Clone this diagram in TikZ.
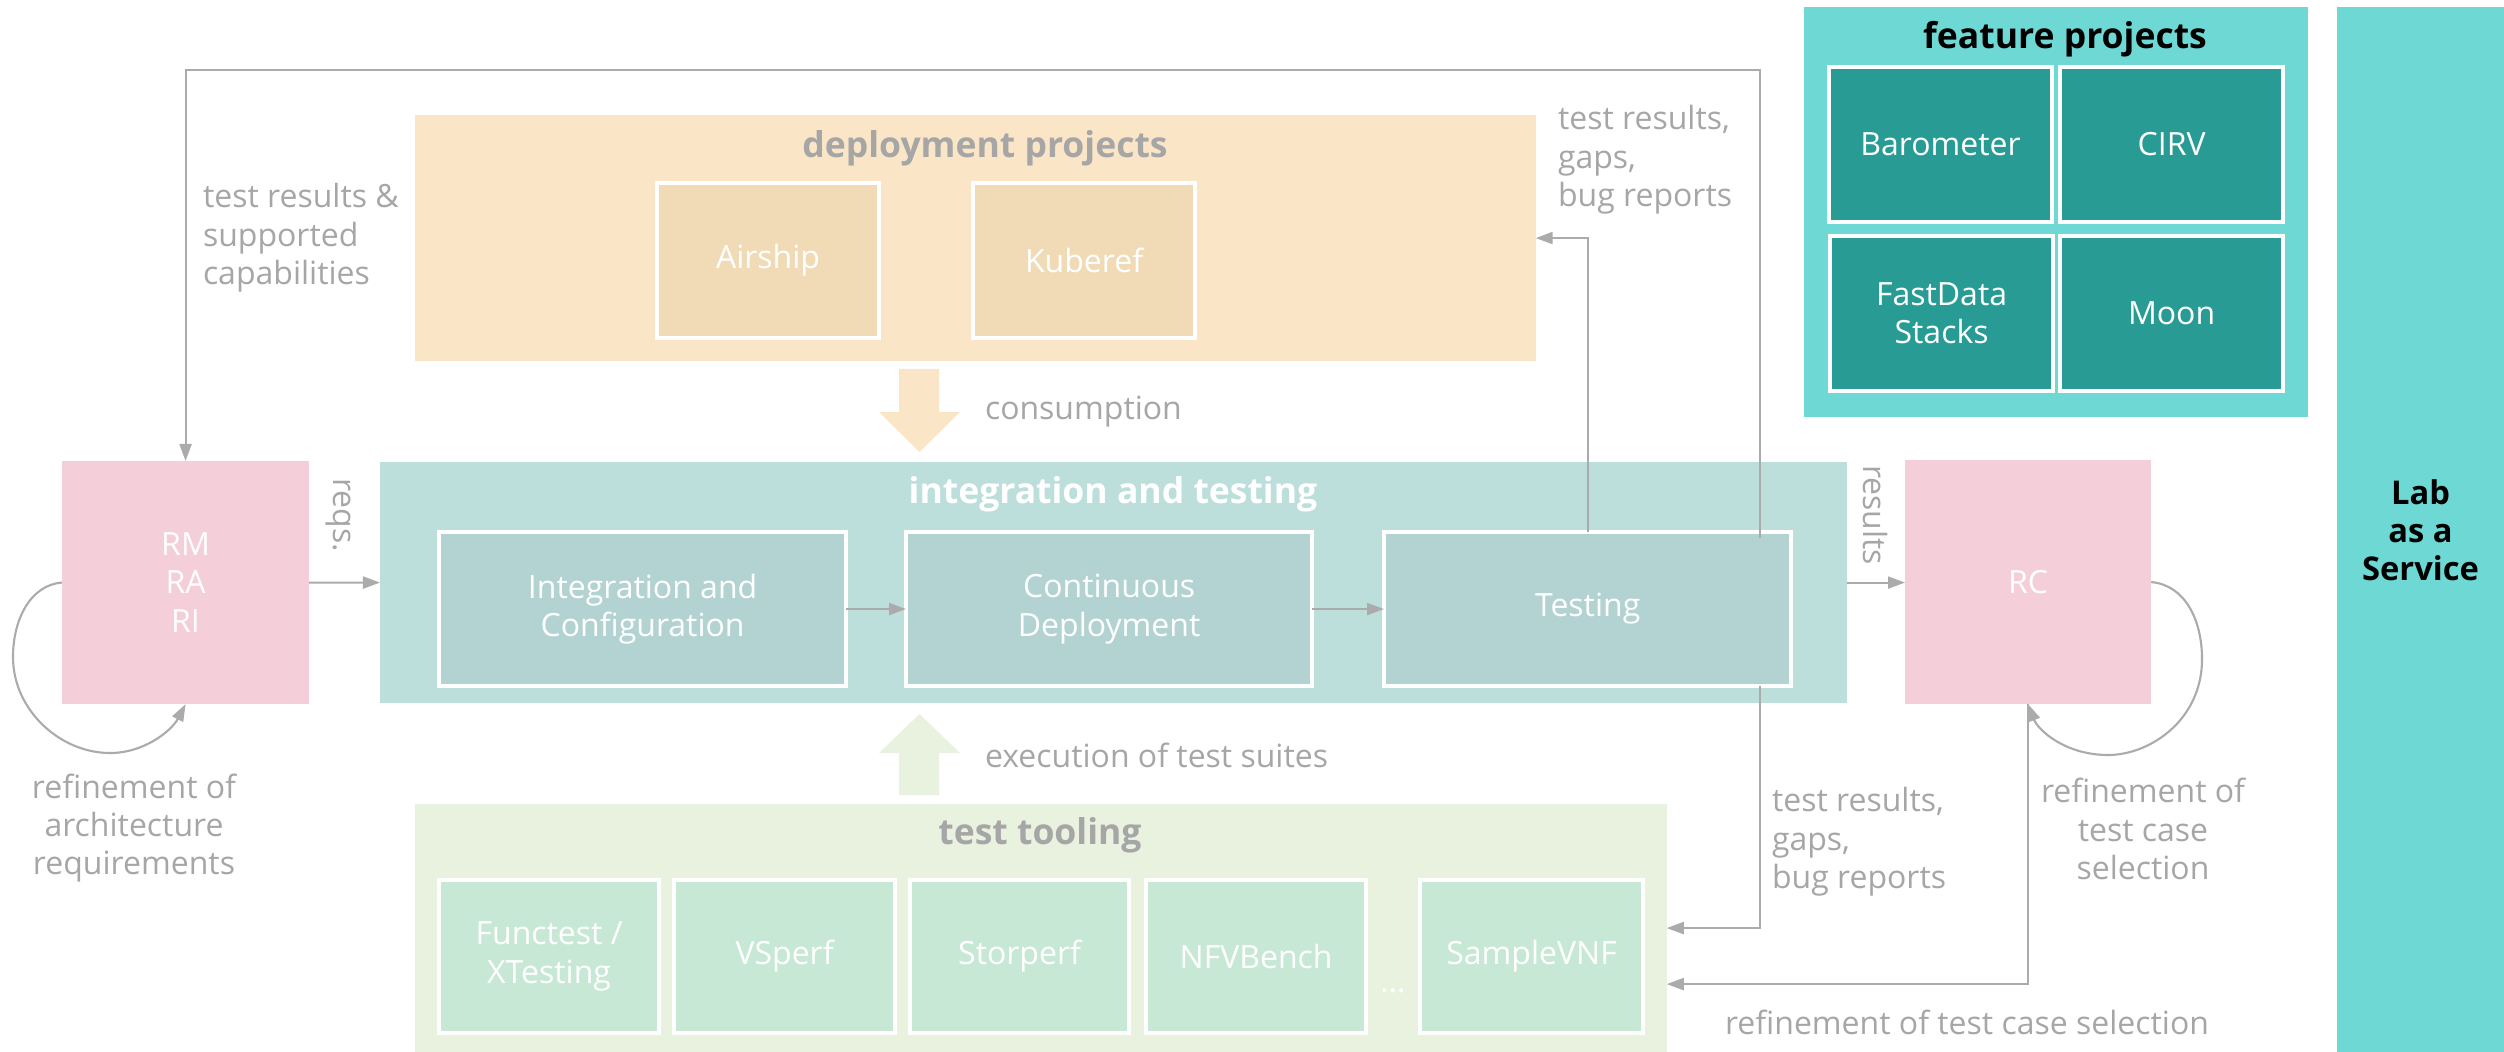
\documentclass[tikz,border=0pt]{standalone}
\usepackage{fontspec}
\setmainfont{Open Sans}
\usetikzlibrary{arrows.meta}

\definecolor{peach}{HTML}{FAE5C6}
\definecolor{peachin}{HTML}{F1DBB6}
\definecolor{intbg}{HTML}{BCDFDC}
\definecolor{intin}{HTML}{B3D3D2}
\definecolor{toolbg}{HTML}{E9F2DF}
\definecolor{toolin}{HTML}{C8E8D6}
\definecolor{pinkbg}{HTML}{F4CED9}
\definecolor{featbg}{HTML}{6ED8D4}
\definecolor{featin}{HTML}{289C94}
\definecolor{txtgray}{HTML}{A6A6A6}
\definecolor{linegray}{HTML}{ABABAB}

\begin{document}
\begin{tikzpicture}[x=0.01cm,y=-0.01cm,
  every node/.style={inner sep=0pt,outer sep=0pt,font=\fontsize{9.1}{10.9}\selectfont},
  group/.style={anchor=north west},
  sub/.style={anchor=north west,draw=white,line width=1.2pt,text=white,align=center,
    minimum width=2.22cm,minimum height=1.55cm},
  title/.style={font=\fontsize{10.1}{12}\selectfont\bfseries,text=txtgray},
  lbl/.style={text=txtgray,align=left,anchor=west},
  conn/.style={draw=linegray,line width=0.6pt,-{Triangle[length=0.17cm,width=0.12cm]}}]

\useasboundingbox (0,0) rectangle (2504,1052);

% deployment projects
\node[group,fill=peach,minimum width=11.2cm,minimum height=2.46cm] (deploy) at (415,115) {};
\node[title] (deploytitle) at (985,148) {deployment projects};
\node[sub,fill=peachin] (airship) at (657,183) {Airship};
\node[sub,fill=peachin] (kuberef) at (973,183) {Kuberef};

% consumption arrow
\fill[peach] (899,369) -- (939,369) -- (939,412) -- (960,412) -- (919.5,452) -- (879,412) -- (899,412) -- cycle;
\node[lbl] (consumelbl) at (985,412) {consumption};

% integration and testing
\node[group,fill=intbg,minimum width=14.66cm,minimum height=2.41cm] (integ) at (380,462) {};
\node[title,text=white] (integtitle) at (1113,494) {integration and testing};
\node[sub,fill=intin,minimum width=4.07cm,minimum height=1.54cm] (intconf) at (439,532) {Integration and\\Configuration};
\node[sub,fill=intin,minimum width=4.06cm,minimum height=1.54cm] (contdep) at (906,532) {Continuous\\Deployment};
\node[sub,fill=intin,minimum width=4.07cm,minimum height=1.54cm] (testing) at (1384,532) {Testing};

% RM / RC
\node[group,fill=pinkbg,text=white,align=center,minimum width=2.47cm,minimum height=2.43cm] (rm) at (62,461) {RM\\RA\\RI};
\node[group,fill=pinkbg,text=white,minimum width=2.46cm,minimum height=2.44cm] (rc) at (1905,460) {RC};

% execution arrow
\fill[toolbg] (899,795) -- (939,795) -- (939,753) -- (960,753) -- (919.5,714) -- (879,753) -- (899,753) -- cycle;
\node[lbl] (execlbl) at (985,755) {execution of test suites};

% test tooling
\node[group,fill=toolbg,minimum width=12.51cm,minimum height=2.48cm] (tooling) at (415,804) {};
\node[title] (tooltitle) at (1040,835) {test tooling};
\node[sub,fill=toolin,minimum width=2.2cm,minimum height=1.53cm] (functest) at (439,880) {Functest /\\XTesting};
\node[sub,fill=toolin,minimum width=2.21cm,minimum height=1.53cm] (vsperf) at (674,880) {VSperf};
\node[sub,fill=toolin,minimum width=2.19cm,minimum height=1.53cm] (storperf) at (910,880) {Storperf};
\node[sub,fill=toolin,minimum width=2.2cm,minimum height=1.53cm] (nfvbench) at (1146,880) {NFVBench};
\node[sub,fill=toolin,minimum width=2.23cm,minimum height=1.53cm] (samplevnf) at (1420,880) {SampleVNF};
\node[text=white] (dots) at (1393,991) {…};

% feature projects
\node[group,fill=featbg,minimum width=5.04cm,minimum height=4.1cm] (feature) at (1804,7) {};
\node[title,text=black] (feattitle) at (2065,39) {feature projects};
\node[sub,fill=featin,minimum width=2.23cm] (barometer) at (1829,67) {Barometer};
\node[sub,fill=featin,minimum width=2.23cm] (cirv) at (2060,67) {CIRV};
\node[sub,fill=featin,minimum width=2.23cm] (fastdata) at (1830,236) {FastData\\Stacks};
\node[sub,fill=featin,minimum width=2.23cm] (moon) at (2060,236) {Moon};

% lab as a service
\node[group,fill=featbg,align=center,font=\fontsize{9.3}{10.8}\selectfont\bfseries,
  minimum width=1.67cm,minimum height=10.45cm] (lab) at (2337,7) {Lab\\as a\\Service};

% connectors
\coordinate (topbend) at (408,70);
\draw[conn] ([xshift=-0.31cm,yshift=-0.06cm]testing.north east) |- (topbend) -| (rm.north);
\draw[conn] (testing.north) |- (deploy.east);
\draw[conn] ([xshift=-0.31cm]testing.south east) |- (tooling.east);
\draw[conn] (rc.south) |- ([yshift=-0.56cm]tooling.east);
\draw[conn] (rm.east) -- (integ.west);
\draw[conn] (integ.east) -- (integ.east -| rc.west);
\draw[conn] (intconf) -- (contdep);
\draw[conn] (contdep) -- (testing);

% self loops
\draw[conn] (rm.west) .. controls (30,585) and (13,620) .. (13,657)
  .. controls (13,710) and (60,753) .. (110,753)
  .. controls (145,753) and (172,730) .. (rm.south);
\draw[conn] (rc.east) .. controls (2185,585) and (2202,620) .. (2202,659)
  .. controls (2202,720) and (2150,755) .. (2108,755)
  .. controls (2065,755) and (2038,730) .. (rc.south);

% labels
\node[lbl] (capslbl) at (203,238) {test results \&\\supported\\capabilities};
\node[lbl] (gapslbl) at (1558,160) {test results,\\gaps,\\bug reports};
\node[lbl] (gapslbltwo) at (1772,842) {test results,\\gaps,\\bug reports};
\node[text=txtgray,align=center] (archlbl) at (134,828) {refinement of\\architecture\\requirements};
\node[text=txtgray,align=center] (caselbl) at (2143,829) {refinement of\\test case\\selection};
\node[text=txtgray] (caselbltwo) at (1967,1022) {refinement of test case selection};
\node[text=txtgray,rotate=-90] (reqslbl) at (338,515) {reqs.};
\node[text=txtgray,rotate=-90] (reslbl) at (1875,515) {results};
\end{tikzpicture}
\end{document}
